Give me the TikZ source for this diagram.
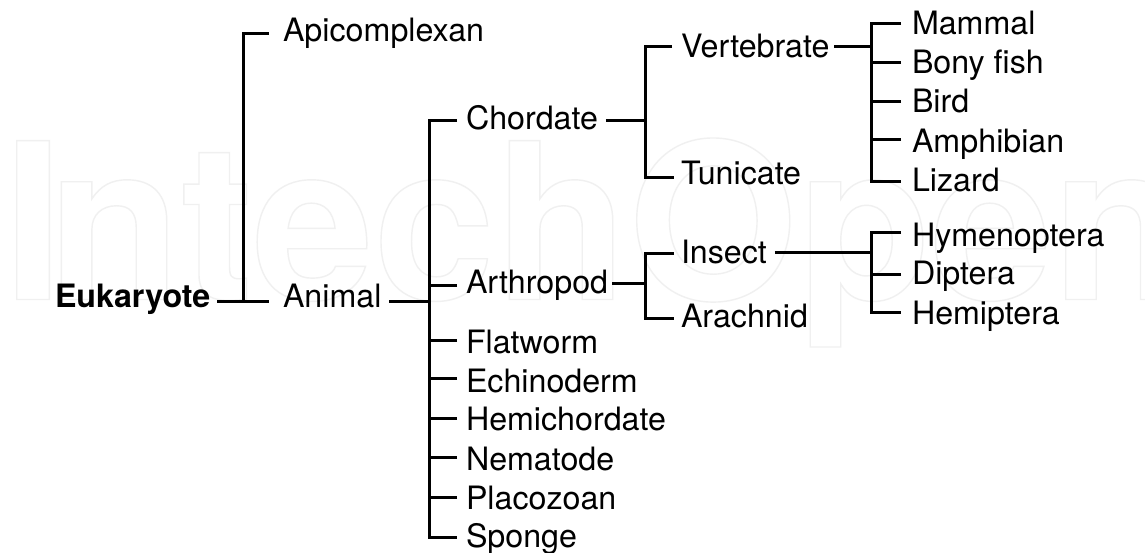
\documentclass[tikz,border=0pt]{standalone}
\usepackage{fontspec}
\setmainfont{TeX Gyre Heros}
\tikzset{
  x=1pt,y=-1pt,
  lbl/.style={anchor=base west,inner sep=0pt,outer sep=0pt,font=\fontsize{32.2}{32}\selectfont,text=black},
  conn/.style={draw=black,line width=3pt,line cap=butt,line join=miter},
  mark wm/.style={anchor=base west,inner sep=0pt,outer sep=0pt,font=\bfseries}
}
\begin{document}
\begin{tikzpicture}
\useasboundingbox (0,0) rectangle (1145,553);
\fill[white] (0,0) rectangle (1145,553);
% watermark
\node[mark wm] (wmark) at (3,299.5) {\special{pdf:code q 1 Tr 1.4 w 0.94 0.94 0.94 RG}\fontsize{218}{218}\selectfont I\kern-16pt ntechOpen\special{pdf:code Q}};
% labels
\node[lbl,font=\fontsize{32.2}{32}\selectfont\bfseries] (euk) at (55,307) {Eukaryote};
\node[lbl] (api) at (283,42) {Apicomplexan};
\node[lbl] (ani) at (283,307) {Animal};
\node[lbl] (cho) at (466,129.5) {Chordate};
\node[lbl] (art) at (466,293) {Arthropod};
\node[lbl] (fla) at (466,353) {Flatworm};
\node[lbl] (ech) at (466,392) {Echinoderm};
\node[lbl] (hem) at (466,430) {Hemichordate};
\node[lbl] (nem) at (466,470) {Nematode};
\node[lbl] (pla) at (466,509) {Placozoan};
\node[lbl] (spo) at (466,547) {Sponge};
\node[lbl] (ver) at (681,58) {Vertebrate};
\node[lbl] (tun) at (681,185) {Tunicate};
\node[lbl] (ins) at (681,263) {Insect};
\node[lbl] (ara) at (681,327) {Arachnid};
\node[lbl] (mam) at (912,34.5) {Mammal};
\node[lbl] (bon) at (912,74) {Bony fish};
\node[lbl] (bir) at (912,113) {Bird};
\node[lbl] (amp) at (912,153) {Amphibian};
\node[lbl] (liz) at (912,192) {Lizard};
\node[lbl] (hym) at (912,247) {Hymenoptera};
\node[lbl] (dip) at (912,284.5) {Diptera};
\node[lbl] (hmp) at (912,324) {Hemiptera};
% junctions
\coordinate (j1) at (243,301);
\coordinate (j2) at (429.5,301);
\coordinate (j3) at (645.5,121);
\coordinate (j4) at (645.5,283);
\coordinate (j5) at (871,47);
\coordinate (j6) at (871,253);
% connectors
\draw[conn] ([shift={(7pt,6pt)}]euk.base east) -- ([shift={(-14pt,6pt)}]ani.base west);
\draw[conn] (j1) |- ([shift={(-14pt,8pt)}]api.base west);
\draw[conn] ([shift={(8pt,6pt)}]ani.base east) -- (j2);
\draw[conn] ([shift={(-9pt,8.5pt)}]cho.base west) -| (j2) |- ([shift={(-9pt,10pt)}]spo.base west);
\foreach \n/\h in {art/8,fla/13,ech/14,hem/12,nem/13,pla/12}
  \draw[conn] ([shift={(-9pt,\h pt)}]\n.base west) -- ++(-27.5,0);
\draw[conn] ([shift={(8pt,8.5pt)}]cho.base east) -- (j3);
\draw[conn] ([shift={(-9pt,11pt)}]ver.base west) -| (j3) |- ([shift={(-7pt,7pt)}]tun.base west);
\draw[conn] ([shift={(4pt,10pt)}]art.base east) -- (j4);
\draw[conn] ([shift={(-7pt,9pt)}]ins.base west) -| (j4) |- ([shift={(-7pt,9pt)}]ara.base west);
\draw[conn] ([shift={(5pt,11pt)}]ver.base east) -- (j5);
\draw[conn] ([shift={(-11pt,10.5pt)}]mam.base west) -| (j5) |- ([shift={(-11pt,10pt)}]liz.base west);
\foreach \n/\h in {bon/11,bir/11,amp/13}
  \draw[conn] ([shift={(-11pt,\h pt)}]\n.base west) -- ++(-30,0);
\draw[conn] ([shift={(8pt,10pt)}]ins.base east) -- (j6);
\draw[conn] ([shift={(-11pt,14pt)}]hym.base west) -| (j6) |- ([shift={(-11pt,12pt)}]hmp.base west);
\draw[conn] ([shift={(-11pt,10.5pt)}]dip.base west) -- ++(-30,0);
\end{tikzpicture}
\end{document}
